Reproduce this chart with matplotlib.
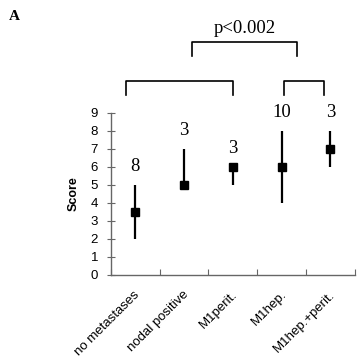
import matplotlib
matplotlib.use("Agg")
import matplotlib.pyplot as plt
import numpy as np

# data
groups = ["no metastases", "nodal positive", "M1perit.", "M1hep.", "M1hep.+perit."]
score_mid = [3.5, 5, 6, 6, 7]
score_low = [2, 5, 5, 4, 6]
score_high = [5, 7, 6, 8, 8]
n_cases = ["8", "3", "3", "10", "3"]
y_ticks = list(range(0, 10))

fig = plt.figure(figsize=(3.61, 3.64), dpi=100)
ax = fig.add_axes([0.3066, 0.2453, 0.6764, 0.4447])

x = np.arange(len(groups))
for i in x:
    ax.plot([i, i], [score_low[i], score_high[i]], color="black", lw=1.6, solid_capstyle="butt")
ax.plot(x, score_mid, "s", color="black", ms=5.2, ls="none")

for i in x:
    ax.annotate(n_cases[i], (i, score_high[i]), xytext=(0, 7), textcoords="offset points",
                ha="center", va="bottom", fontsize=13.5, family="Liberation Serif")

ax.set_xlim(-0.5, len(groups) - 0.5)
ax.set_ylim(0, 9)
ax.set_yticks(y_ticks)
ax.set_xticks(np.arange(len(groups) + 1) - 0.5)
ax.set_xticklabels([])
ax.set_xticks(x + 0.06, minor=True)
ax.set_xticklabels(groups, minor=True, rotation=45, ha="right", va="center",
                   rotation_mode="anchor", fontsize=9.5, family="Liberation Sans")
ax.tick_params(axis="x", which="minor", length=0, pad=13)
ax.tick_params(axis="x", which="major", length=4, color="#666666", direction="in")
ax.tick_params(axis="y", length=6, color="#666666", direction="inout", labelsize=9.5, pad=6)
for t in ax.get_yticklabels():
    t.set_family("Liberation Sans")
for s in ["top", "right"]:
    ax.spines[s].set_visible(False)
for s in ["left", "bottom"]:
    ax.spines[s].set_color("#666666")
    ax.spines[s].set_linewidth(1)
ax.set_ylabel("Score", fontsize=9, fontweight="bold", family="Liberation Sans", labelpad=8)

# significance brackets
def bracket(x0, x1, ylo, yhi):
    ax.plot([x0, x0, x1, x1], [ylo, yhi, yhi, ylo], color="black", lw=1.2, clip_on=False)

bracket(-0.19, 2.0, 9.98, 10.76)
bracket(3.05, 3.87, 9.98, 10.76)
bracket(1.16, 3.32, 12.15, 12.93)
ax.text(2.24, 13.7, "p<0.002", ha="center", va="center", fontsize=13.5, family="Liberation Serif")

fig.text(0.025, 0.955, "A", fontsize=11, fontweight="bold", family="Liberation Serif", va="center")

fig.savefig("out.png", dpi=100)
